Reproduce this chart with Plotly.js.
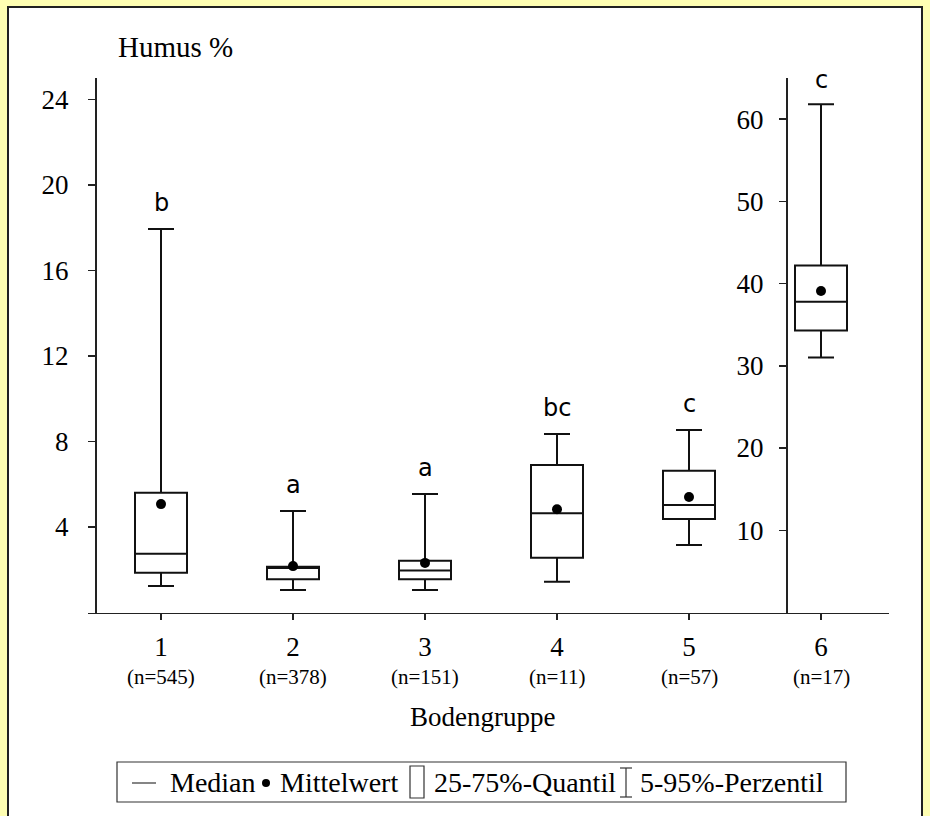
<!DOCTYPE html>
<html>
<head>
<meta charset="utf-8">
<script src="https://cdn.plot.ly/plotly-3.0.1.min.js"></script>
<style>
  html, body { margin:0; padding:0; background:#FFFFB3; width:930px; height:816px; overflow:hidden; }
  #frame { position:absolute; left:7px; top:6px; width:916px; height:830px; background:#fff; border:2px solid #222; box-sizing:border-box; }
  #chart { position:absolute; left:0; top:0; width:930px; height:816px; }
</style>
</head>
<body>
<div id="frame"></div>
<div id="chart"></div>
<script>
// ---- data ----
const groups      = [1, 2, 3, 4, 5];
const q1Vals      = [1.86, 1.55, 1.55, 2.56, 4.37];
const medianVals  = [2.75, 2.08, 1.96, 4.64, 5.03];
const q3Vals      = [5.60, 2.14, 2.42, 6.90, 6.63];
const lowerVals   = [1.24, 1.05, 1.05, 1.44, 3.16];
const upperVals   = [17.94, 4.75, 5.54, 8.35, 8.54];
const meanVals    = [5.07, 2.17, 2.32, 4.83, 5.40];
const letters     = ['b', 'a', 'a', 'bc', 'c'];

const group6      = [6];
const q1G6        = [34.3];
const medianG6    = [37.8];
const q3G6        = [42.2];
const lowerG6     = [31.0];
const upperG6     = [61.8];
const meanG6      = [39.1];
const letterG6    = ['c'];

const tickLabels  = ['1', '2', '3', '4', '5', '6'];
const nLabels     = ['(n=545)', '(n=378)', '(n=151)', '(n=11)', '(n=57)', '(n=17)'];
const leftTicks   = [4, 8, 12, 16, 20, 24];
const rightTicks  = [10, 20, 30, 40, 50, 60];

// ---- helpers: pixel -> paper (margins are zero) ----
const W = 930, H = 816;
const px = x => x / W;
const py = y => 1 - y / H;

const serif = 'Liberation Serif, Times New Roman, serif';
const sans = 'DejaVu Sans, Verdana, sans-serif';
const lineCol = '#222';

const boxStyle = {
  type: 'box', boxpoints: false, width: 0.394, whiskerwidth: 0.5,
  fillcolor: '#ffffff', line: { color: '#111', width: 2 },
  showlegend: false, hoverinfo: 'skip'
};

const traces = [
  Object.assign({}, boxStyle, {
    x: groups, q1: q1Vals, median: medianVals, q3: q3Vals,
    lowerfence: lowerVals, upperfence: upperVals, xaxis: 'x', yaxis: 'y'
  }),
  Object.assign({}, boxStyle, {
    x: group6, q1: q1G6, median: medianG6, q3: q3G6,
    lowerfence: lowerG6, upperfence: upperG6, xaxis: 'x', yaxis: 'y2'
  }),
  { type: 'scatter', mode: 'markers', x: groups, y: meanVals, xaxis: 'x', yaxis: 'y',
    marker: { color: '#000', size: 10 }, showlegend: false, hoverinfo: 'skip' },
  { type: 'scatter', mode: 'markers', x: group6, y: meanG6, xaxis: 'x', yaxis: 'y2',
    marker: { color: '#000', size: 10 }, showlegend: false, hoverinfo: 'skip' }
];

const annotations = [];
groups.forEach((g, i) => {
  annotations.push({ x: g, y: upperVals[i], xref: 'x', yref: 'y', yshift: 26,
    xanchor: 'center', yanchor: 'middle',
    text: letters[i], showarrow: false, font: { family: sans, size: 24, color: '#000' } });
});
group6.forEach((g, i) => {
  annotations.push({ x: g, y: upperG6[i], xref: 'x', yref: 'y2', yshift: 24,
    xanchor: 'center', yanchor: 'middle',
    text: letterG6[i], showarrow: false, font: { family: sans, size: 24, color: '#000' } });
});
const allCats = groups.concat(group6);
allCats.forEach((g, i) => {
  annotations.push({ x: g, y: py(677), xref: 'x', yref: 'paper', xanchor: 'center', yanchor: 'middle',
    text: nLabels[i], showarrow: false, font: { family: serif, size: 21, color: '#000' } });
});
annotations.push({ x: px(175), y: py(47), xref: 'paper', yref: 'paper', xanchor: 'center', yanchor: 'middle',
  text: 'Humus %', showarrow: false, font: { family: serif, size: 29, color: '#000' } });
annotations.push({ x: px(482), y: py(717), xref: 'paper', yref: 'paper', xanchor: 'center', yanchor: 'middle',
  text: 'Bodengruppe', showarrow: false, font: { family: serif, size: 27, color: '#000' } });

// legend texts
const legFont = { family: serif, size: 28, color: '#000' };
const legY = py(782);
[['Median', 168], ['Mittelwert', 278], ['25-75%-Quantil', 432], ['5-95%-Perzentil', 638]].forEach(([t, x]) => {
  annotations.push({ x: px(x), y: legY, xref: 'paper', yref: 'paper', xanchor: 'left', yanchor: 'middle',
    text: t, showarrow: false, font: legFont });
});

const shapes = [
  // legend frame
  { type: 'rect', xref: 'paper', yref: 'paper', x0: px(117), x1: px(846), y0: py(802), y1: py(762),
    line: { color: '#333', width: 1.2 }, fillcolor: 'rgba(0,0,0,0)' },
  // median symbol
  { type: 'line', xref: 'paper', yref: 'paper', x0: px(132), x1: px(156), y0: py(783), y1: py(783),
    line: { color: '#333', width: 1.2 } },
  // mean symbol
  { type: 'circle', xref: 'paper', yref: 'paper', x0: px(262), x1: px(270), y0: py(787), y1: py(779),
    line: { color: '#000', width: 0 }, fillcolor: '#000' },
  // quantile box symbol
  { type: 'rect', xref: 'paper', yref: 'paper', x0: px(410), x1: px(424), y0: py(798), y1: py(766),
    line: { color: '#333', width: 1.2 }, fillcolor: 'rgba(0,0,0,0)' },
  // percentile whisker symbol
  { type: 'line', xref: 'paper', yref: 'paper', x0: px(626), x1: px(626), y0: py(797), y1: py(768),
    line: { color: '#333', width: 1.2 } },
  { type: 'line', xref: 'paper', yref: 'paper', x0: px(620), x1: px(632), y0: py(768), y1: py(768),
    line: { color: '#333', width: 1.2 } },
  { type: 'line', xref: 'paper', yref: 'paper', x0: px(620), x1: px(632), y0: py(797), y1: py(797),
    line: { color: '#333', width: 1.2 } }
];

const yDomain = [py(612.5), py(78)];
const layout = {
  width: W, height: H,
  margin: { l: 0, r: 0, t: 0, b: 0, pad: 0 },
  paper_bgcolor: 'rgba(0,0,0,0)', plot_bgcolor: 'rgba(0,0,0,0)',
  showlegend: false,
  xaxis: {
    domain: [px(88), px(889)], range: [1 - 73 / 132, 1 + 728 / 132],
    tickvals: allCats, ticktext: tickLabels, ticks: 'outside', ticklen: 6, tickwidth: 1.5,
    tickcolor: lineCol, showline: true, linecolor: lineCol, linewidth: 1.5,
    showgrid: false, zeroline: false, fixedrange: true, anchor: 'y',
    tickfont: { family: serif, size: 27, color: '#000' }, ticklabelstandoff: 4
  },
  yaxis: {
    domain: yDomain, range: [0, 25], anchor: 'free', position: px(95),
    tickvals: leftTicks, ticks: 'outside', ticklen: 7, tickwidth: 1.5, tickcolor: lineCol,
    showline: true, linecolor: lineCol, linewidth: 1.5, showgrid: false, zeroline: false,
    tickfont: { family: serif, size: 27, color: '#000' }, ticklabelstandoff: 14
  },
  yaxis2: {
    domain: yDomain, range: [0, 65], anchor: 'free', position: px(786), overlaying: 'y', side: 'left',
    tickvals: rightTicks, ticks: 'outside', ticklen: 7, tickwidth: 1.5, tickcolor: lineCol,
    showline: true, linecolor: lineCol, linewidth: 1.5, showgrid: false, zeroline: false,
    tickfont: { family: serif, size: 27, color: '#000' }, ticklabelstandoff: 10
  },
  annotations: annotations,
  shapes: shapes
};

Plotly.newPlot('chart', traces, layout, { staticPlot: true, displayModeBar: false });
</script>
</body>
</html>
